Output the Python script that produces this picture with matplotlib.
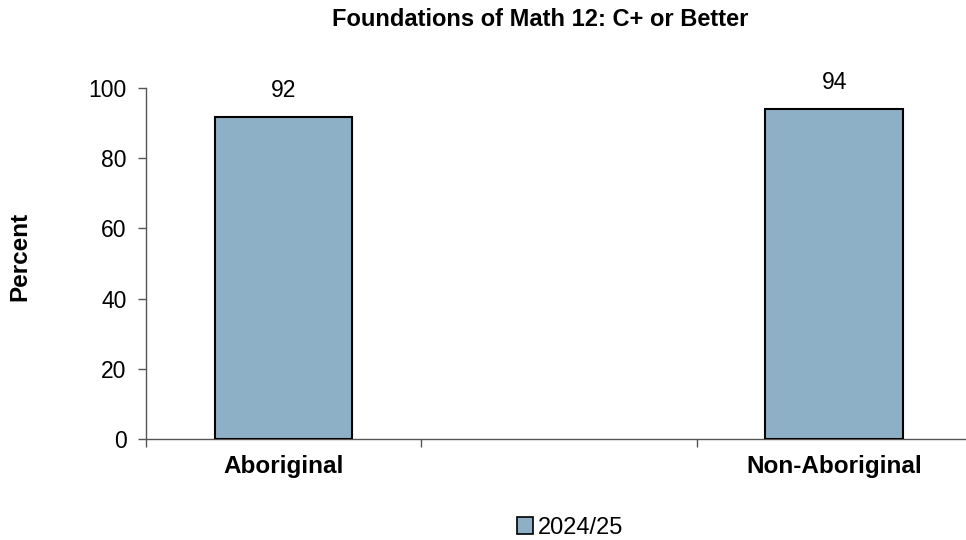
import matplotlib.pyplot as plt
import matplotlib.patches as mpatches

plt.rcParams["font.family"] = ["Liberation Sans", "DejaVu Sans"]

# data (middle slot is an empty category, as in the original chart)
categories = ["Aboriginal", "", "Non-Aboriginal"]
values = [91.8, None, 94.0]
value_labels = ["92", "", "94"]
series_name = "2024/25"
yticks = [0, 20, 40, 60, 80, 100]

bar_color = "#8EB0C6"

fig = plt.figure(figsize=(9.66, 5.4), dpi=100)
ax = fig.add_axes([146 / 966, 1 - 439 / 540, 826 / 966, 351 / 540])

xs = [i for i, v in enumerate(values) if v is not None]
hs = [v for v in values if v is not None]
ax.bar(xs, hs, width=0.5, color=bar_color, edgecolor="black", linewidth=1.5, zorder=3)
for x, v, lab in zip(range(len(values)), values, value_labels):
    if v is not None:
        ax.text(x, v + 4.3, lab, ha="center", va="bottom", fontsize=16.5)

ax.set_xlim(-0.5, len(categories) - 0.5)
ax.set_ylim(0, 100)
ax.set_yticks(yticks)
ax.tick_params(axis="y", labelsize=16.5, length=6, width=1, color="#555555", pad=8)

# category boundary ticks, labels centred under the bars
ax.set_xticks([i - 0.5 for i in range(len(categories) + 1)])
ax.set_xticklabels([])
ax.tick_params(axis="x", length=6, width=1, color="#555555")
for i, c in enumerate(categories):
    if c:
        ax.text(i, -4.5, c, ha="center", va="top", fontsize=17.5, fontweight="bold")

for s in ["top", "right"]:
    ax.spines[s].set_visible(False)
for s in ["left", "bottom"]:
    ax.spines[s].set_color("#555555")
    ax.spines[s].set_linewidth(1)

fig.text(540 / 966, 1 - 20 / 540, "Foundations of Math 12: C+ or Better",
         ha="center", va="center", fontsize=17, fontweight="bold")
fig.text(20 / 966, 1 - 256 / 540, "Percent", rotation=90,
         ha="center", va="center", fontsize=17.5, fontweight="bold")

handle = mpatches.Patch(facecolor=bar_color, edgecolor="black", linewidth=1.2, label=series_name)
fig.legend(handles=[handle], loc="center", bbox_to_anchor=(570 / 966, 1 - 528 / 540),
           frameon=False, fontsize=17, handlelength=0.7, handleheight=0.7,
           handletextpad=0.2, borderpad=0)

fig.savefig("out.png", dpi=100)
